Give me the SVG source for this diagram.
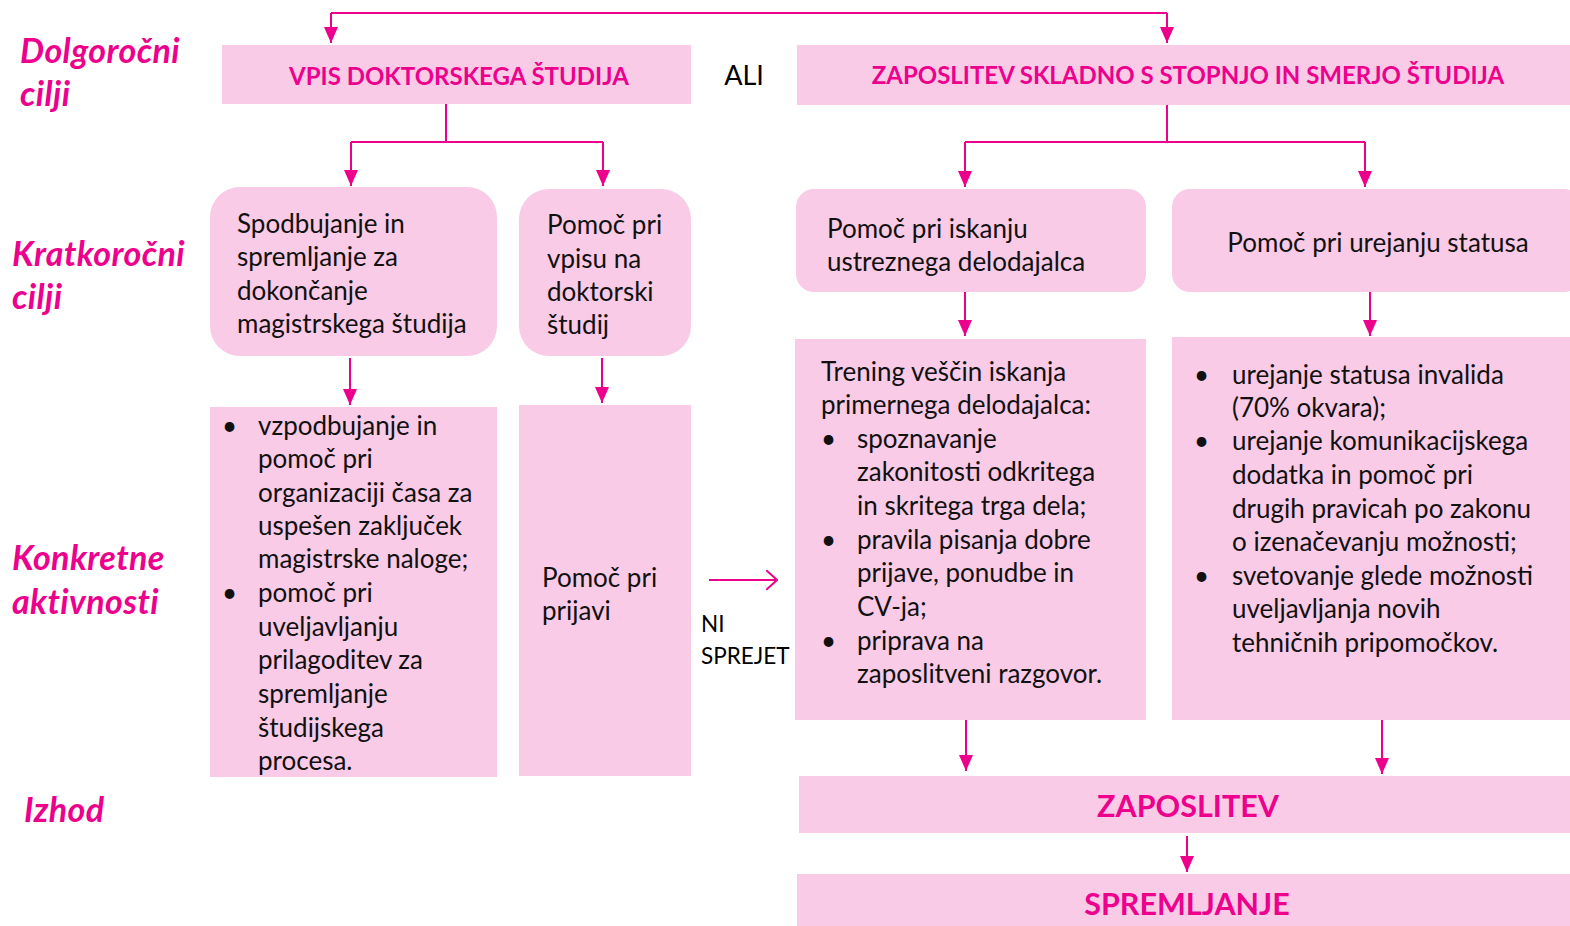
<svg xmlns="http://www.w3.org/2000/svg" width="1570" height="926" viewBox="0 0 1570 926">
<defs>
<marker id="ahb" viewBox="0 0 16 14" refX="16" refY="7" markerWidth="16" markerHeight="14" markerUnits="userSpaceOnUse" orient="auto"><path d="M0,0 L16,7 L0,14 Z" fill="#EC008C"/></marker>
<marker id="open" viewBox="0 0 12 20" refX="11" refY="10" markerWidth="12" markerHeight="20" markerUnits="userSpaceOnUse" orient="auto"><path d="M0,0 L11,10 L0,20" fill="none" stroke="#EC008C" stroke-width="2"/></marker>
</defs>
<style>
.box{fill:#F9CBE6}
.hd{font-family:Lato,"Open Sans",sans-serif;font-weight:bold;fill:#EC008C;text-anchor:middle}
.lbl{font-family:Lato,"Open Sans",sans-serif;font-weight:bold;font-style:italic;fill:#EC008C;font-size:34px;letter-spacing:0.4px}
.t{font-family:Lato,"Open Sans",sans-serif;font-size:26px;fill:#111}
.c{fill:none;stroke:#EC008C;stroke-width:2}
</style>
<rect width="1570" height="926" fill="#fff"/>
<g id="labels">
<text class="lbl" x="20" y="63">Dolgoročni</text>
<text class="lbl" x="20" y="106">cilji</text>
<text class="lbl" x="12" y="266">Kratkoročni</text>
<text class="lbl" x="12" y="309">cilji</text>
<text class="lbl" x="12" y="570">Konkretne</text>
<text class="lbl" x="12" y="614">aktivnosti</text>
<text class="lbl" x="24" y="822">Izhod</text>
</g>
<g id="connectors">
<path class="c" d="M331,13 L1167,13"/>
<path class="c" d="M331,13 L331,43" marker-end="url(#ahb)"/>
<path class="c" d="M1167,13 L1167,43" marker-end="url(#ahb)"/>
<path class="c" d="M446,104 L446,142 M351,142 L603,142"/>
<path class="c" d="M351,142 L351,186" marker-end="url(#ahb)"/>
<path class="c" d="M603,142 L603,186" marker-end="url(#ahb)"/>
<path class="c" d="M1167,105 L1167,142 M965,142 L1365,142"/>
<path class="c" d="M965,142 L965,187" marker-end="url(#ahb)"/>
<path class="c" d="M1365,142 L1365,187" marker-end="url(#ahb)"/>
<path class="c" d="M350,358 L350,405" marker-end="url(#ahb)"/>
<path class="c" d="M602,358 L602,403" marker-end="url(#ahb)"/>
<path class="c" d="M965,292 L965,336" marker-end="url(#ahb)"/>
<path class="c" d="M1370,292 L1370,336" marker-end="url(#ahb)"/>
<path class="c" d="M709,580 L777,580" marker-end="url(#open)"/>
<path class="c" d="M966,720 L966,771" marker-end="url(#ahb)"/>
<path class="c" d="M1382,720 L1382,774" marker-end="url(#ahb)"/>
<path class="c" d="M1187,836 L1187,872" marker-end="url(#ahb)"/>
</g>
<g id="vpis">
<rect class="box" x="222" y="45" width="469" height="59"/>
<text class="hd" x="459" y="84.5" font-size="24">VPIS DOKTORSKEGA ŠTUDIJA</text>
</g>
<g id="ali"><text x="744" y="85" font-family="Lato,'Open Sans',sans-serif" font-size="27" text-anchor="middle" fill="#000">ALI</text></g>
<g id="zaposlitev-skladno">
<rect class="box" x="797" y="45" width="773" height="60"/>
<text class="hd" x="1188" y="84" font-size="24">ZAPOSLITEV SKLADNO S STOPNJO IN SMERJO ŠTUDIJA</text>
</g>
<g id="spodbujanje">
<rect class="box" x="210" y="187" width="287" height="169" rx="30"/>
<text class="t" x="237" y="233">Spodbujanje in</text>
<text class="t" x="237" y="266">spremljanje za</text>
<text class="t" x="237" y="300">dokončanje</text>
<text class="t" x="237" y="333">magistrskega študija</text>
</g>
<g id="pomoc-vpis">
<rect class="box" x="519" y="189" width="172" height="167" rx="30"/>
<text class="t" x="547" y="234">Pomoč pri</text>
<text class="t" x="547" y="268">vpisu na</text>
<text class="t" x="547" y="301">doktorski</text>
<text class="t" x="547" y="334">študij</text>
</g>
<g id="pomoc-iskanju">
<rect class="box" x="796" y="189" width="350" height="103" rx="18"/>
<text class="t" x="827" y="238">Pomoč pri iskanju</text>
<text class="t" x="827" y="271">ustreznega delodajalca</text>
</g>
<g id="pomoc-statusa">
<rect class="box" x="1172" y="189" width="410" height="103" rx="18"/>
<text class="t" x="1378" y="252" text-anchor="middle">Pomoč pri urejanju statusa</text>
</g>
<g id="aktivnosti-1">
<rect class="box" x="210" y="407" width="287" height="370"/>
<text class="t" x="222" y="435">•</text>
<text class="t" x="258" y="435">vzpodbujanje in</text>
<text class="t" x="258" y="468">pomoč pri</text>
<text class="t" x="258" y="502">organizaciji časa za</text>
<text class="t" x="258" y="535">uspešen zaključek</text>
<text class="t" x="258" y="568">magistrske naloge;</text>
<text class="t" x="222" y="602">•</text>
<text class="t" x="258" y="602">pomoč pri</text>
<text class="t" x="258" y="636">uveljavljanju</text>
<text class="t" x="258" y="669">prilagoditev za</text>
<text class="t" x="258" y="703">spremljanje</text>
<text class="t" x="258" y="737">študijskega</text>
<text class="t" x="258" y="770">procesa.</text>
</g>
<g id="aktivnosti-2">
<rect class="box" x="519" y="405" width="172" height="371"/>
<text class="t" x="542" y="587">Pomoč pri</text>
<text class="t" x="542" y="620">prijavi</text>
</g>
<g id="ni-sprejet">
<text x="701" y="632" font-family="Lato,'Open Sans',sans-serif" font-size="22.5" fill="#000">NI</text>
<text x="701" y="664" font-family="Lato,'Open Sans',sans-serif" font-size="22.5" fill="#000">SPREJET</text>
</g>
<g id="aktivnosti-3">
<rect class="box" x="795" y="339" width="351" height="381"/>
<text class="t" x="821" y="381">Trening veščin iskanja</text>
<text class="t" x="821" y="414">primernega delodajalca:</text>
<text class="t" x="821" y="448">•</text>
<text class="t" x="857" y="448">spoznavanje</text>
<text class="t" x="857" y="481">zakonitosti odkritega</text>
<text class="t" x="857" y="515">in skritega trga dela;</text>
<text class="t" x="821" y="549">•</text>
<text class="t" x="857" y="549">pravila pisanja dobre</text>
<text class="t" x="857" y="582">prijave, ponudbe in</text>
<text class="t" x="857" y="616">CV-ja;</text>
<text class="t" x="821" y="650">•</text>
<text class="t" x="857" y="650">priprava na</text>
<text class="t" x="857" y="683">zaposlitveni razgovor.</text>
</g>
<g id="aktivnosti-4">
<rect class="box" x="1172" y="337" width="398" height="383"/>
<text class="t" x="1194" y="384">•</text>
<text class="t" x="1232" y="384">urejanje statusa invalida</text>
<text class="t" x="1232" y="417">(70% okvara);</text>
<text class="t" x="1194" y="450">•</text>
<text class="t" x="1232" y="450">urejanje komunikacijskega</text>
<text class="t" x="1232" y="484">dodatka in pomoč pri</text>
<text class="t" x="1232" y="518">drugih pravicah po zakonu</text>
<text class="t" x="1232" y="551">o izenačevanju možnosti;</text>
<text class="t" x="1194" y="585">•</text>
<text class="t" x="1232" y="585">svetovanje glede možnosti</text>
<text class="t" x="1232" y="618">uveljavljanja novih</text>
<text class="t" x="1232" y="652">tehničnih pripomočkov.</text>
</g>
<g id="zaposlitev">
<rect class="box" x="799" y="776" width="771" height="57"/>
<text class="hd" x="1188" y="817" font-size="30.5">ZAPOSLITEV</text>
</g>
<g id="spremljanje">
<rect class="box" x="797" y="874" width="773" height="52"/>
<text class="hd" x="1187" y="915" font-size="30.5">SPREMLJANJE</text>
</g>
</svg>
